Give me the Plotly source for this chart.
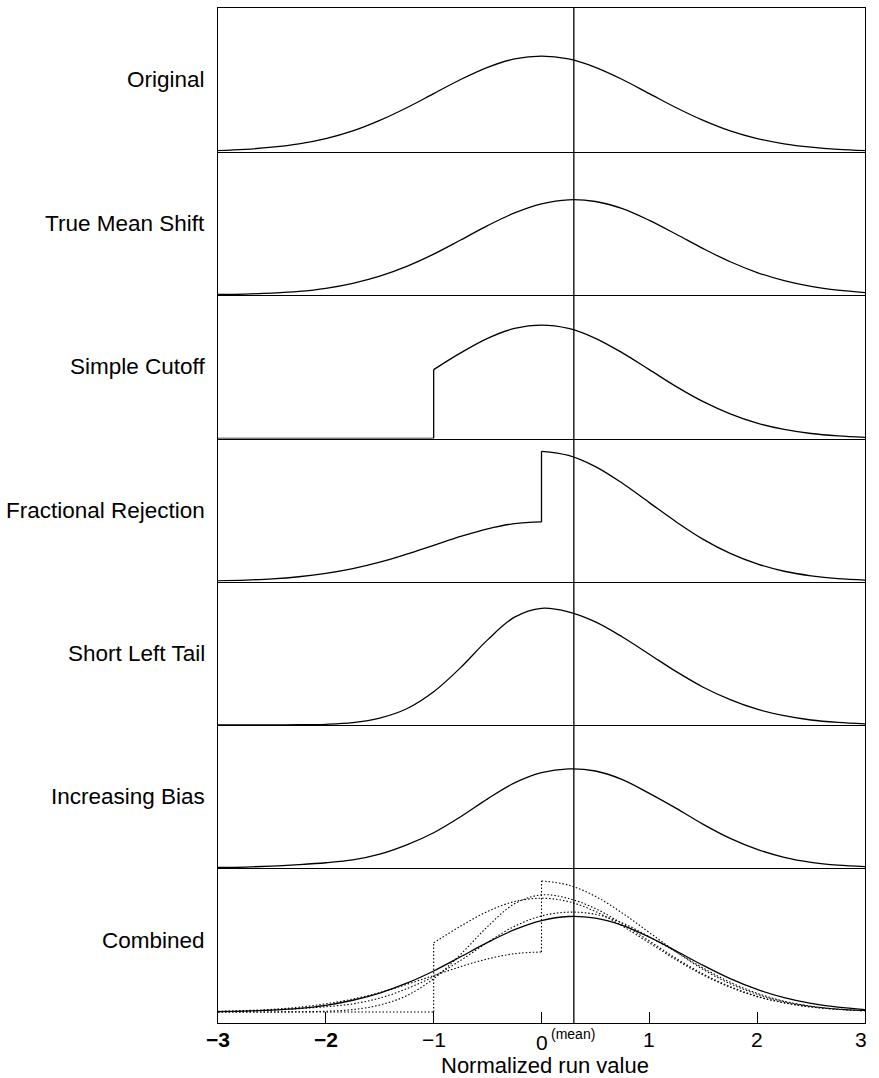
import plotly.graph_objects as go

# ---- data -----------------------------------------------------------------
# Normalized run value grid (shared by the smooth curves)
X = [-3.0, -2.75, -2.5, -2.25, -2.0, -1.75, -1.5, -1.25, -1.0, -0.75, -0.5, -0.25,
     0.0, 0.25, 0.5, 0.75, 1.0, 1.25, 1.5, 1.75, 2.0, 2.25, 2.5, 2.75, 3.0]

ORIGINAL = [0.004, 0.009, 0.018, 0.032, 0.054, 0.086, 0.130, 0.183, 0.242, 0.301, 0.352, 0.387,
            0.399, 0.387, 0.352, 0.301, 0.242, 0.183, 0.130, 0.086, 0.054, 0.032, 0.018, 0.009, 0.004]

TRUE_MEAN_SHIFT = [0.002, 0.004, 0.008, 0.015, 0.028, 0.049, 0.079, 0.120, 0.171, 0.230, 0.290, 0.343,
                   0.381, 0.398, 0.391, 0.361, 0.312, 0.254, 0.194, 0.139, 0.094, 0.060, 0.036, 0.020, 0.010]

# step curves: a repeated x value marks a vertical jump
CUTOFF_X = [-3.0, -1.0, -1.0, -0.75, -0.5, -0.25, 0.0, 0.25, 0.5, 0.75, 1.0, 1.25, 1.5,
            1.75, 2.0, 2.25, 2.5, 2.75, 3.0]
SIMPLE_CUTOFF = [0.0, 0.0, 0.288, 0.358, 0.419, 0.460, 0.474, 0.460, 0.419, 0.358, 0.288, 0.217,
                 0.154, 0.103, 0.064, 0.038, 0.021, 0.011, 0.005]

FRACTIONAL_X = [-3.0, -2.75, -2.5, -2.25, -2.0, -1.75, -1.5, -1.25, -1.0, -0.75, -0.5, -0.25, 0.0,
                0.0, 0.25, 0.5, 0.75, 1.0, 1.25, 1.5, 1.75, 2.0, 2.25, 2.5, 2.75, 3.0]
FRACTIONAL_REJECTION = [0.003, 0.006, 0.011, 0.020, 0.034, 0.054, 0.081, 0.115, 0.152, 0.189, 0.221,
                        0.243, 0.250, 0.546, 0.529, 0.482, 0.412, 0.331, 0.250, 0.177, 0.118, 0.074,
                        0.043, 0.024, 0.012, 0.006]

SHORT_LEFT_TAIL = [0.0, 0.0, 0.0002, 0.001, 0.003, 0.010, 0.029, 0.068, 0.139, 0.240, 0.356, 0.451,
                   0.488, 0.473, 0.431, 0.368, 0.296, 0.223, 0.158, 0.106, 0.066, 0.039, 0.021, 0.011, 0.005]

INCREASING_BIAS = [0.002, 0.004, 0.008, 0.014, 0.022, 0.034, 0.058, 0.097, 0.148, 0.215, 0.290, 0.357,
                   0.400, 0.416, 0.407, 0.371, 0.313, 0.250, 0.183, 0.124, 0.078, 0.045, 0.024, 0.012, 0.006]

MEAN_SHIFT = 0.3

PANEL_NAMES = ["Original", "True Mean Shift", "Simple Cutoff", "Fractional Rejection",
               "Short Left Tail", "Increasing Bias", "Combined"]

TICK_VALUES = [-3, -2, -1, 0, 1, 2, 3]
TICK_TEXT = ["<b>\u22123</b>", "<b>\u22122</b>", "\u22121", "0", "1", "2", "3"]
X_TITLE = "Normalized run value"

# ---- layout geometry ------------------------------------------------------
W, H = 879, 1078
M_L, M_R, M_T, M_B = 218, 14, 8, 55
PLOT_H = H - M_T - M_B
# pixel rows of panel borders, top to bottom
EDGES = [8, 151.5, 295, 438.5, 581.5, 725, 868, 1023]
Y_TOP = 0.6
Y_BOTTOM_LAST = -0.0458

FONT = "Liberation Sans, Arial, Helvetica, sans-serif"


def paper_y(py):
    return (H - M_B - py) / PLOT_H


def with_breaks(xs, ys):
    """Split a series at repeated x values so the jump is drawn straight."""
    ox, oy = [xs[0]], [ys[0]]
    for i in range(1, len(xs)):
        if xs[i] == xs[i - 1]:
            ox += [None, xs[i - 1], xs[i], None, xs[i]]
            oy += [None, ys[i - 1], ys[i], None, ys[i]]
        else:
            ox.append(xs[i])
            oy.append(ys[i])
    return ox, oy


def axid(i):
    return "" if i == 0 else str(i + 1)


fig = go.Figure()

solid = dict(color="black", width=1.3)
dotted = dict(color="black", width=1.1, dash="1.5px,2px")

panel_series = [
    (X, ORIGINAL),
    (X, TRUE_MEAN_SHIFT),
    (CUTOFF_X, SIMPLE_CUTOFF),
    (FRACTIONAL_X, FRACTIONAL_REJECTION),
    (X, SHORT_LEFT_TAIL),
    (X, INCREASING_BIAS),
]

for i, (xs, ys) in enumerate(panel_series):
    bx, by = with_breaks(xs, ys)
    fig.add_trace(go.Scatter(x=bx, y=by, mode="lines", line=solid, line_shape="spline",
                             connectgaps=False, showlegend=False, hoverinfo="skip",
                             xaxis="x" + axid(i), yaxis="y" + axid(i)))

# combined panel: shifted normal solid, the distortions dotted
k = axid(6)
fig.add_trace(go.Scatter(x=X, y=TRUE_MEAN_SHIFT, mode="lines", line=solid, line_shape="spline",
                         showlegend=False, hoverinfo="skip", xaxis="x" + k, yaxis="y" + k))
for xs, ys in [(CUTOFF_X, SIMPLE_CUTOFF), (FRACTIONAL_X, FRACTIONAL_REJECTION),
               (X, SHORT_LEFT_TAIL), (X, INCREASING_BIAS)]:
    bx, by = with_breaks(xs, ys)
    fig.add_trace(go.Scatter(x=bx, y=by, mode="lines", line=dotted, line_shape="spline",
                             connectgaps=False, showlegend=False, hoverinfo="skip",
                             xaxis="x" + k, yaxis="y" + k))

layout = dict(
    width=W, height=H,
    margin=dict(l=M_L, r=M_R, t=M_T, b=M_B, pad=0),
    paper_bgcolor="white", plot_bgcolor="white",
    showlegend=False,
    font=dict(family=FONT, color="black"),
)

annotations = []
for i in range(7):
    d0 = paper_y(EDGES[i + 1])
    d1 = paper_y(EDGES[i])
    last = i == 6
    rmin = Y_BOTTOM_LAST if last else 0.0
    # each panel draws its own bottom line; only the top panel closes the frame on top
    xa = dict(domain=[0, 1], range=[-3, 3], showline=True, mirror=(i == 0), linecolor="black",
              linewidth=1.4, showgrid=False, zeroline=False, showticklabels=False,
              anchor="y" + axid(i))
    if last:
        xa.update(ticks="inside", tickvals=TICK_VALUES[1:-1], ticklen=11, tickwidth=1.2,
                  tickcolor="black")
    else:
        xa.update(ticks="")
    layout["xaxis" + axid(i)] = xa
    layout["yaxis" + axid(i)] = dict(domain=[d0, d1], range=[rmin, Y_TOP], showline=True,
                                     mirror=True, linecolor="black", linewidth=1.2,
                                     showgrid=False, zeroline=False, showticklabels=False,
                                     ticks="", anchor="x" + axid(i))
    yc = d0 + (d1 - d0) * ((Y_TOP / 2) - rmin) / (Y_TOP - rmin)
    annotations.append(dict(text=PANEL_NAMES[i], xref="paper", yref="paper", x=0, y=yc,
                            xanchor="right", yanchor="middle", xshift=-11, showarrow=False,
                            font=dict(size=22.5, family=FONT, color="black")))

# tick labels along the bottom axis
label_y = {0: 1042}
for v, t in zip(TICK_VALUES, TICK_TEXT):
    py = label_y.get(v, 1039)
    xs = -4 if v == TICK_VALUES[-1] else 0
    annotations.append(dict(text=t, xref="x7", yref="paper", x=v, y=paper_y(py), xshift=xs,
                            xanchor="center", yanchor="middle", showarrow=False,
                            font=dict(size=21, family=FONT, color="black")))
annotations.append(dict(text="(mean)", xref="x7", yref="paper", x=0, y=paper_y(1034), xshift=7,
                        xanchor="left", yanchor="middle", showarrow=False,
                        font=dict(size=14, family=FONT, color="black")))
annotations.append(dict(text=X_TITLE, xref="paper", yref="paper", x=0.5, y=paper_y(1065),
                        xshift=3, xanchor="center", yanchor="middle", showarrow=False,
                        font=dict(size=22, family=FONT, color="black")))
layout["annotations"] = annotations

# reference line at the shifted mean through every panel
layout["shapes"] = [dict(type="line", xref="x7", yref="paper", x0=MEAN_SHIFT, x1=MEAN_SHIFT,
                         y0=0, y1=1, line=dict(color="black", width=1.3))]

fig.update_layout(**layout)
fig.write_html("out.html")
